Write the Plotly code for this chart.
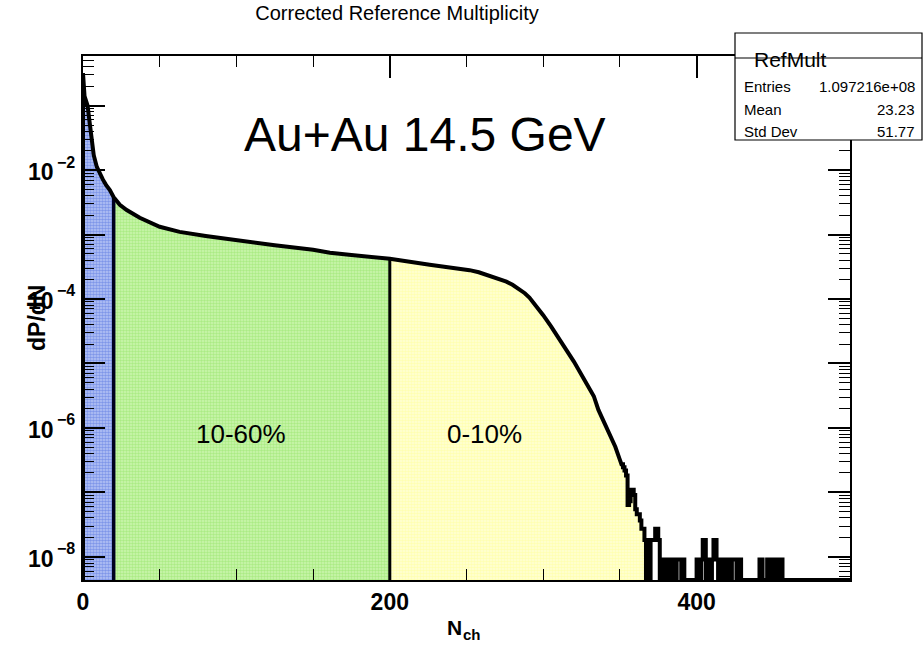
import numpy as np
import plotly.graph_objects as go

# ---------------- data ----------------
entries = 1.097216e8
mean_val = 23.23
std_val = 51.77

# smooth part of the distribution (N_ch, dP/dN)
curve_x = [0, 1, 2, 3, 4, 5, 6, 7, 9, 11, 13, 15, 17.5, 20, 24, 28.5, 37, 50, 63,
           80, 100, 125, 150, 161, 175, 200, 226, 240, 252, 258, 265, 270, 276, 280,
           285, 288, 291, 295, 300, 305, 310, 315, 320, 327, 333, 336, 339, 343.5, 347, 350]
curve_y = [3.2e-1, 1.4e-1, 1.2e-1, 1.0e-1, 6.3e-2, 3.8e-2, 2.4e-2, 1.7e-2, 1.12e-2,
           8.5e-3, 7.1e-3, 5.9e-3, 4.9e-3, 3.8e-3, 2.9e-3, 2.4e-3, 1.82e-3, 1.32e-3,
           1.10e-3, 9.5e-4, 8.1e-4, 6.8e-4, 5.8e-4, 5.2e-4, 4.8e-4, 4.2e-4, 3.4e-4,
           3.1e-4, 2.8e-4, 2.6e-4, 2.3e-4, 2.1e-4, 1.86e-4, 1.66e-4, 1.41e-4, 1.23e-4,
           1.05e-4, 8.1e-5, 5.6e-5, 3.8e-5, 2.5e-5, 1.66e-5, 1.07e-5, 5.5e-6, 3.1e-6,
           1.9e-6, 1.32e-6, 7.4e-7, 5.1e-7, 3.2e-7]

# tail: raw counts per unit bin starting at N_ch = 351
tail_start = 351
tail_counts = [30, 27, 24, 20, 7, 8, 12, 12, 10, 6,     # 351-360
               5, 5, 4, 3, 3, 2, 0, 2, 0, 2,            # 361-370
               2, 2, 3, 3, 2, 0, 1, 0, 1, 1,            # 371-380
               0, 1, 1, 0, 1, 0, 1, 1, 1, 0,            # 381-390
               1, 0, 0, 0, 0, 0, 0, 0, 0, 1,            # 391-400
               1, 0, 1, 2, 2, 0, 1, 1, 0, 1,            # 401-410
               2, 2, 1, 0, 1, 1, 0, 1, 0, 1,            # 411-420
               1, 0, 1, 1, 1, 0, 1, 1, 0, 0,            # 421-430
               0, 0, 0, 0, 0, 0, 0, 0, 0, 0,            # 431-440
               1, 1, 0, 0, 0, 1, 1, 0, 1, 0,            # 441-450
               1, 1, 0, 1, 1]                           # 451-455
x_max = 500

cut_lo = 20       # 10-60% lower boundary
cut_hi = 200      # 0-10% lower boundary
fill_end = 366    # end of the shaded 0-10% area

# tick labels
x_ticks = [0, 200, 400]
y_label_exps = [-8, -6, -4, -2]

# ---------------- helpers ----------------
y_lo_log, y_hi_log = -8.36, -0.23
floor = 10 ** y_lo_log

tail_counts_full = np.pad(np.array(tail_counts, float), (0, x_max - tail_start - len(tail_counts)))
tail_vals = np.where(tail_counts_full > 0, tail_counts_full / entries, floor)
edges = tail_start + np.arange(len(tail_vals) + 1)
tx = np.repeat(edges, 2)[1:-1].astype(float)
ty = np.repeat(tail_vals, 2)

cx = np.array(curve_x, float)
cy = np.array(curve_y, float)

full_x = np.concatenate([[0], cx, tx, [x_max]])
full_y = np.concatenate([[floor], cy, ty, [floor]])


def region(a, b):
    m = (full_x >= a) & (full_x <= b)
    xs = full_x[m]
    ys = full_y[m]
    xs = np.concatenate([[xs[0]], xs, [xs[-1]]])
    ys = np.concatenate([[floor], ys, [floor]])
    return xs, ys


fig = go.Figure()

fills = [
    (0, cut_lo, '#4466de', '#b8c6f4'),
    (cut_lo, cut_hi, '#8ae05a', '#cdf6b0'),
    (cut_hi, fill_end, '#ffff8c', '#ffffd6'),
]
for a, b, fg, bg in fills:
    xs, ys = region(a, b)
    fig.add_trace(go.Scatter(
        x=xs, y=ys, mode='lines', fill='toself', line=dict(width=0),
        fillcolor=bg,
        fillpattern=dict(shape='.', fgcolor=fg, bgcolor=bg, size=3, solidity=0.55),
        hoverinfo='skip', showlegend=False))

# boundary lines of the centrality classes
y_at_lo = curve_y[curve_x.index(cut_lo)]
y_at_hi = curve_y[curve_x.index(cut_hi)]
fig.add_trace(go.Scatter(x=[cut_lo, cut_lo], y=[floor, y_at_lo], mode='lines',
                         line=dict(color='#000020', width=3.5), showlegend=False, hoverinfo='skip'))
fig.add_trace(go.Scatter(x=[cut_hi, cut_hi], y=[floor, y_at_hi], mode='lines',
                         line=dict(color='black', width=3), showlegend=False, hoverinfo='skip'))

# the histogram outline
fig.add_trace(go.Scatter(x=full_x, y=full_y, mode='lines',
                         line=dict(color='black', width=4), showlegend=False, hoverinfo='skip'))

# ---------------- axes ----------------
font_fam = 'Liberation Sans, Arial, Helvetica, sans-serif'
y_minor = [k * 10.0 ** e for e in range(-9, 0) for k in range(2, 10)]

fig.update_layout(
    xaxis=dict(range=[0, x_max], showgrid=False, zeroline=False,
               showline=True, linecolor='black', linewidth=2, mirror='ticks',
               ticks='inside', ticklen=22, tickwidth=1.5, tickcolor='black',
               tickmode='array', tickvals=x_ticks,
               ticktext=['<b>%d</b>' % v for v in x_ticks],
               tickfont=dict(size=23, color='black', family=font_fam),
               minor=dict(ticks='inside', ticklen=11, dtick=50, tick0=0,
                          tickcolor='black', tickwidth=1, showgrid=False)),
    yaxis=dict(type='log', range=[y_lo_log, y_hi_log], showgrid=False, zeroline=False,
               showline=True, linecolor='black', linewidth=2, mirror='ticks',
               ticks='inside', ticklen=22, tickwidth=1.5, tickcolor='black',
               tickmode='array', tickvals=[10.0 ** e for e in range(-9, 1)],
               showticklabels=False,
               minor=dict(ticks='inside', ticklen=11, tickmode='array', tickvals=y_minor,
                          tickcolor='black', tickwidth=1, showgrid=False)),
)


# pixel helpers (plot area: x 83..850 px, y 56..580 px)
def px_x(p):
    return (p - 83) / 767.0


def px_y(p):
    return (580 - p) / 524.0


# ---------------- texts ----------------
ann = []
# y tick labels: 10 with a superscript exponent
for e in y_label_exps:
    ann.append(dict(text='<b>10</b>', x=px_x(56), y=e, xref='paper', yref='y',
                    xanchor='right', yanchor='middle', yshift=-2, showarrow=False,
                    font=dict(size=23, color='black')))
    ann.append(dict(text='<b>\u2212%d</b>' % (-e), x=px_x(55), y=e, xref='paper', yref='y',
                    xanchor='left', yanchor='middle', yshift=8, showarrow=False,
                    font=dict(size=16, color='black')))
# x axis title N_ch
ann.append(dict(text='<b>N</b>', x=px_x(464), y=px_y(627), xref='paper', yref='paper',
                xanchor='right', yanchor='middle', showarrow=False,
                font=dict(size=21, color='black')))
ann.append(dict(text='<b>ch</b>', x=px_x(461), y=px_y(634), xref='paper', yref='paper',
                xanchor='left', yanchor='middle', showarrow=False,
                font=dict(size=15, color='black')))
ann.append(dict(text='<b>dP/dN</b>', x=px_x(22), y=0.5, xref='paper', yref='paper',
                textangle=-90, showarrow=False, font=dict(size=23, color='black')))

ann.append(dict(text='Au+Au 14.5 GeV', x=223, y=-1.45, xref='x', yref='y',
                showarrow=False, font=dict(size=48, color='black')))
ann.append(dict(text='10-60%', x=103, y=-6.1, xref='x', yref='y',
                showarrow=False, font=dict(size=26, color='black')))
ann.append(dict(text='0-10%', x=262, y=-6.1, xref='x', yref='y',
                showarrow=False, font=dict(size=26, color='black')))

# stats box
shapes = [
    dict(type='rect', xref='paper', yref='paper', x0=px_x(735), x1=px_x(922),
         y0=px_y(140), y1=px_y(33), line=dict(color='black', width=1.2),
         fillcolor='white', layer='above'),
    dict(type='line', xref='paper', yref='paper', x0=px_x(735), x1=px_x(922),
         y0=px_y(58), y1=px_y(58), line=dict(color='black', width=1.2), layer='above'),
]
ann.append(dict(text='RefMult', x=px_x(829), y=px_y(46), xref='paper', yref='paper',
                showarrow=False, font=dict(size=21, color='black')))
rows = [('Entries', '%.6e' % entries), ('Mean', '%.2f' % mean_val), ('Std Dev', '%.2f' % std_val)]
row_y = [76, 99, 121]
for (lab, val), yy in zip(rows, row_y):
    ann.append(dict(text=lab, x=px_x(742), y=px_y(yy), xref='paper', yref='paper',
                    xanchor='left', showarrow=False, font=dict(size=15, color='black')))
    ann.append(dict(text=val, x=px_x(917), y=px_y(yy), xref='paper', yref='paper',
                    xanchor='right', showarrow=False, font=dict(size=15, color='black')))

fig.update_layout(
    width=923, height=649,
    margin=dict(l=83, r=73, t=56, b=69),
    paper_bgcolor='white', plot_bgcolor='white',
    font=dict(family=font_fam, color='black'),
    title=dict(text='Corrected Reference Multiplicity', x=397 / 923, xanchor='center',
               y=1 - 13 / 649, yanchor='middle', font=dict(size=20, color='black')),
    annotations=ann, shapes=shapes, showlegend=False,
)

fig.write_html('out.html')
